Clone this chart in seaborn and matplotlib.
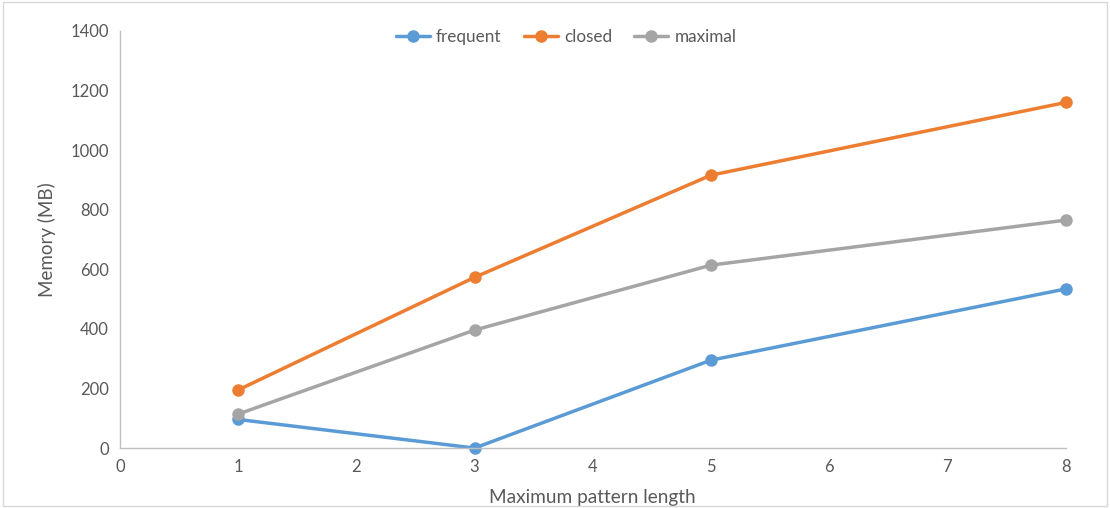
import numpy as np
import matplotlib
matplotlib.use("Agg")
import matplotlib.pyplot as plt
import pandas as pd
import seaborn as sns

# data
lengths = [1, 3, 5, 8]
frequent = [96, 0, 295, 534]
closed = [195, 573, 916, 1160]
maximal = [114, 396, 614, 765]
series_names = ["frequent", "closed", "maximal"]
colors = ["#5B9BD5", "#ED7D31", "#A5A5A5"]

df = pd.DataFrame({
    "length": lengths * 3,
    "memory": frequent + closed + maximal,
    "series": np.repeat(series_names, len(lengths)),
})

sns.set_style("white")
plt.rcParams["font.family"] = ["Lato", "DejaVu Sans"]
text_col = "#595959"

fig = plt.figure(figsize=(11.1, 5.08), dpi=100)
ax = fig.add_axes([0.108, 0.118, 0.852, 0.821])

sns.lineplot(data=df, x="length", y="memory", hue="series", palette=colors,
             marker="o", markersize=9, markeredgewidth=0, linewidth=2.5,
             ax=ax, legend=False)
for ln in ax.lines:
    ln.set_clip_on(False)

ax.set_xlim(0, 8)
ax.set_ylim(0, 1400)
ax.set_xticks(range(0, 9))
ax.set_yticks(range(0, 1401, 200))
ax.tick_params(axis="both", length=0, labelsize=12, colors=text_col, pad=8)
ax.set_xlabel("Maximum pattern length", fontsize=13.7, color=text_col, labelpad=10)
ax.set_ylabel("Memory (MB)", fontsize=13.5, color=text_col, labelpad=10)

for s in ["top", "right"]:
    ax.spines[s].set_visible(False)
for s in ["left", "bottom"]:
    ax.spines[s].set_color("#BFBFBF")
    ax.spines[s].set_linewidth(1)

handles = [plt.Line2D([0], [0], color=c, marker="o", markersize=8, linewidth=2.5)
           for c in colors]
fig.legend(handles, series_names, loc="center", bbox_to_anchor=(0.510, 0.927),
           ncol=3, frameon=False, fontsize=12.3, labelcolor=text_col,
           handlelength=2.0, columnspacing=1.3, handletextpad=0.35)

# light border round the whole chart area
fig.patches.append(plt.Rectangle((0.003, 0.003), 0.994, 0.994, transform=fig.transFigure,
                                 fill=False, edgecolor="#D9D9D9", linewidth=1))

fig.savefig("out.png", dpi=100)
